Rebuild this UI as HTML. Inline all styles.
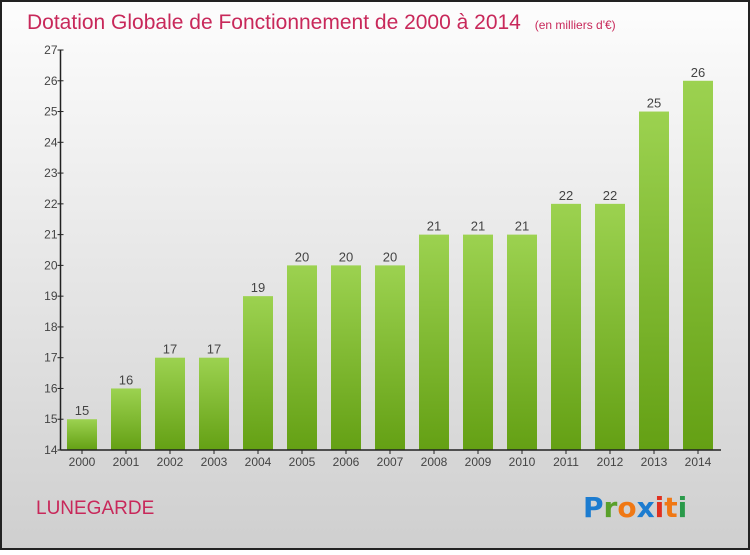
<!DOCTYPE html>
<html><head><meta charset="utf-8"><style>
html,body{margin:0;padding:0}
body{width:750px;height:550px;overflow:hidden;font-family:"Liberation Sans","DejaVu Sans",sans-serif}
</style></head><body>
<svg width="750" height="550" xmlns="http://www.w3.org/2000/svg">
<defs>
<linearGradient id="bg" x1="0" y1="0" x2="0" y2="1"><stop offset="0" stop-color="#fdfdfd"/><stop offset="1" stop-color="#cfcfcf"/></linearGradient>
<linearGradient id="bar" x1="0" y1="0" x2="0" y2="1"><stop offset="0" stop-color="#9cd250"/><stop offset="1" stop-color="#64a014"/></linearGradient>
</defs>
<rect x="1" y="1" width="748" height="548" fill="url(#bg)" stroke="#222" stroke-width="2"/>
<text x="27" y="29" font-size="21" fill="#c8285a">Dotation Globale de Fonctionnement de 2000 à 2014 <tspan font-size="12" dx="8">(en milliers d'€)</tspan></text>
<g id="plot"></g>
<text x="36" y="514" font-size="19" fill="#c8285a">LUNEGARDE</text>
<text x="583" y="517" font-size="28" font-weight="bold" font-family="DejaVu Sans, sans-serif"><tspan fill="#1c7cd0">P</tspan><tspan fill="#5aa02a">r</tspan><tspan fill="#f07814">o</tspan><tspan fill="#1c7cd0">x</tspan><tspan fill="#e03020">i</tspan><tspan fill="#f07814">t</tspan><tspan fill="#2a9a4a">i</tspan></text>
</svg>
<script>
const years=['2000','2001','2002','2003','2004','2005','2006','2007','2008','2009','2010','2011','2012','2013','2014'];
const values=[15,16,17,17,19,20,20,20,21,21,21,22,22,25,26];
const yTicks=[14,15,16,17,18,19,20,21,22,23,24,25,26,27];
const NS='http://www.w3.org/2000/svg';
const g=document.getElementById('plot');
const x0=60.5,x1=721,yb=450,yt=50,ymin=14,ymax=27;
const y=v=>yb-(v-ymin)/(ymax-ymin)*(yb-yt);
const xc=i=>82+i*44;
function mk(t,a){const e=document.createElementNS(NS,t);for(const k in a)e.setAttribute(k,a[k]);g.appendChild(e);return e;}
values.forEach((v,i)=>{
 const r=mk('rect',{x:xc(i)-15,y:y(v),width:30,height:yb-y(v),fill:'url(#bar)'});
 
 
 const t=mk('text',{x:xc(i),y:y(v)-4,'text-anchor':'middle','font-size':13,fill:'#444'});
 t.textContent=v;
 
 
 const l=mk('text',{x:xc(i),y:466,'text-anchor':'middle','font-size':12,fill:'#444'});
 l.textContent=years[i];
 
 
 mk('line',{x1:xc(i),x2:xc(i),y1:yb,y2:yb+4,stroke:'#222'});
});
yTicks.forEach(v=>{
 mk('line',{x1:x0-3,x2:x0+3,y1:y(v),y2:y(v),stroke:'#222'});
 const t=mk('text',{x:x0-3,y:y(v)+4,'text-anchor':'end','font-size':12,fill:'#444'});
 t.textContent=v;
 
 
});
const ya=mk('line',{x1:x0,x2:x0,y1:yt,y2:yb,stroke:'#222','stroke-width':1.5});


const xa=mk('line',{x1:x0,x2:x1,y1:yb,y2:yb,stroke:'#222','stroke-width':1.5});


</script>
</body></html>
